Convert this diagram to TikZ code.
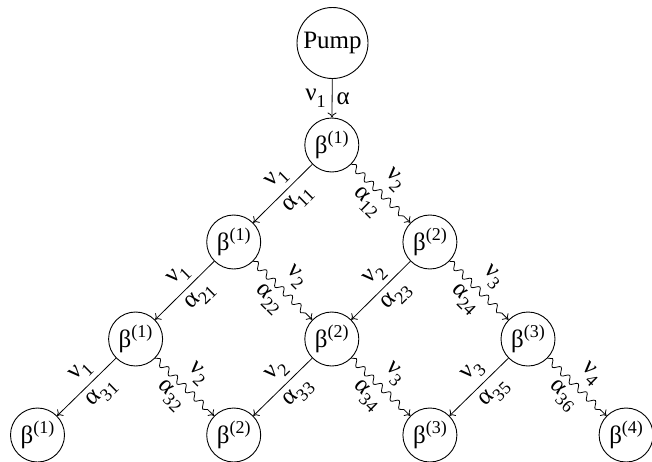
\documentclass[tikz,border=0pt]{standalone}
\usepackage{fontspec}
\setmainfont{Liberation Serif}
\usetikzlibrary{arrows.meta,decorations.pathmorphing}
\newcommand{\bt}[1]{β\raisebox{0.42em}{\fontsize{18}{18}\selectfont(#1)}}
\newcommand{\lb}[2]{#1\raisebox{-0.28em}{\fontsize{18}{18}\selectfont #2}}
\begin{document}
\begin{tikzpicture}[x=1pt,y=-1pt,
  every node/.style={font=\fontsize{25}{28}\selectfont},
  st/.style={circle,draw,line width=0.9pt,minimum size=54pt,inner sep=0pt},
  pumpst/.style={circle,draw,line width=0.9pt,minimum size=71pt,inner sep=0pt},
  ar/.style={line width=0.8pt,-{To[length=5pt,width=9pt]}},
  wavy/.style={decorate,decoration={snake,amplitude=3.2pt,segment length=12pt,post length=5pt}},
  lab/.style={font=\fontsize{25}{27}\selectfont,sloped,pos=0.42},
  sa/.style={lab,above,inner sep=5pt},
  sb/.style={lab,below,inner sep=6pt},
  wa/.style={lab,above,inner sep=9pt,pos=0.5},
  wb/.style={lab,below,inner sep=7pt,pos=0.45}]
\useasboundingbox (0,0) rectangle (652,461);
\node[pumpst] (p) at (332.5,43) {Pump};
\node[st] (a) at (331.8,145) {\bt{1}};
\node[st] (b1) at (233.7,242) {\bt{1}};
\node[st] (b2) at (429.9,242) {\bt{2}};
\node[st] (c1) at (135.6,339) {\bt{1}};
\node[st] (c2) at (331.8,339) {\bt{2}};
\node[st] (c3) at (528,339) {\bt{3}};
\node[st] (d1) at (37.5,435) {\bt{1}};
\node[st] (d2) at (233.7,435) {\bt{2}};
\node[st] (d3) at (429.9,435) {\bt{3}};
\node[st] (d4) at (626.1,435) {\bt{4}};
% pump edge
\draw[ar] (p) -- node[left,font=\fontsize{25}{27}\selectfont,inner sep=6pt] {\lb{ν}{1}} node[right,font=\fontsize{25}{27}\selectfont,inner sep=4pt] {α} (a);
% straight edges
\draw[ar] (a) -- node[sa] {\lb{ν}{1}} node[sb] {\lb{α}{11}} (b1);
\draw[ar] (b1) -- node[sa] {\lb{ν}{1}} node[sb] {\lb{α}{21}} (c1);
\draw[ar] (b2) -- node[sa] {\lb{ν}{2}} node[sb] {\lb{α}{23}} (c2);
\draw[ar] (c1) -- node[sa] {\lb{ν}{1}} node[sb] {\lb{α}{31}} (d1);
\draw[ar] (c2) -- node[sa] {\lb{ν}{2}} node[sb] {\lb{α}{33}} (d2);
\draw[ar] (c3) -- node[sa] {\lb{ν}{3}} node[sb] {\lb{α}{35}} (d3);
% wavy edges
\draw[ar,wavy] (a) -- (b2);
\path (a) -- node[wa] {\lb{ν}{2}} node[wb] {\lb{α}{12}} (b2);
\draw[ar,wavy] (b1) -- (c2);
\path (b1) -- node[wa] {\lb{ν}{2}} node[wb] {\lb{α}{22}} (c2);
\draw[ar,wavy] (b2) -- (c3);
\path (b2) -- node[wa] {\lb{ν}{3}} node[wb] {\lb{α}{24}} (c3);
\draw[ar,wavy] (c1) -- (d2);
\path (c1) -- node[wa] {\lb{ν}{2}} node[wb] {\lb{α}{32}} (d2);
\draw[ar,wavy] (c2) -- (d3);
\path (c2) -- node[wa] {\lb{ν}{3}} node[wb] {\lb{α}{34}} (d3);
\draw[ar,wavy] (c3) -- (d4);
\path (c3) -- node[wa] {\lb{ν}{4}} node[wb] {\lb{α}{36}} (d4);
\end{tikzpicture}
\end{document}
